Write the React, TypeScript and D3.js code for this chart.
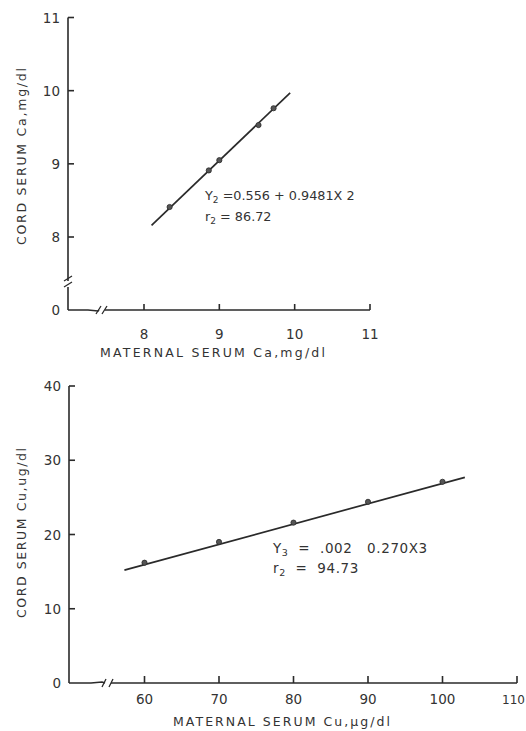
import React from "react";
import * as d3 from "d3";

// Top chart: Calcium
const caMaternal = [8.34, 8.86, 9.0, 9.52, 9.72];
const caCord = [8.41, 8.91, 9.05, 9.53, 9.76];
const caLineX = [8.1, 9.94];
const caLineY = [8.16, 9.97];
const caXTicks = [8, 9, 10, 11];
const caYTicks = [8, 9, 10, 11];

// Bottom chart: Copper
const cuMaternal = [60, 70, 80, 90, 100];
const cuCord = [16.2, 19.0, 21.6, 24.4, 27.1];
const cuLineX = [57.3, 103];
const cuLineY = [15.2, 27.7];
const cuXTicks = [60, 70, 80, 90, 100, 110];
const cuYTicks = [10, 20, 30, 40];

const INK = "#2a2a2a";
const TXT = "#333";
const FONT = "DejaVu Sans, Liberation Sans, sans-serif";

export default function App() {
  const xCa = d3.scaleLinear().domain([8, 11]).range([144, 370]);
  const yCa = d3.scaleLinear().domain([8, 11]).range([237, 17.5]);
  const ca0x = 68;
  const ca0y = 310;

  const xCu = d3.scaleLinear().domain([60, 110]).range([144.5, 517]);
  const yCu = d3.scaleLinear().domain([0, 40]).range([683, 386]);
  const cu0x = 69;

  const line = d3
    .line<[number, number]>()
    .x((d) => d[0])
    .y((d) => d[1]);

  const caPts: [number, number][] = caLineX.map((v, i) => [xCa(v), yCa(caLineY[i])]);
  const cuPts: [number, number][] = cuLineX.map((v, i) => [xCu(v), yCu(cuLineY[i])]);

  return (
    <svg
      width={526}
      height={731}
      style={{ position: "absolute", left: 0, top: 0, background: "#fff" }}
      fontFamily={FONT}
    >
      <rect x={0} y={0} width={526} height={731} fill="#fff" />

      {/* ===== TOP CHART ===== */}
      <g stroke={INK} strokeWidth={1.6} fill="none">
        <path d={`M${ca0x},${yCa(11)} L${ca0x},281`} />
        <path d={`M${ca0x},287 L${ca0x},${ca0y}`} />
        <path d={`M${ca0x - 4},281 L${ca0x + 4},276 M${ca0x - 4},287 L${ca0x + 4},282`} strokeWidth={1.3} />
        <path d={`M${ca0x},${ca0y} L${ca0x + 20},${ca0y} L${ca0x + 30},${ca0y + 1} L99,${ca0y}`} />
        <path d={`M105,${ca0y} L${xCa(11)},${ca0y}`} />
        <path d={`M96,${ca0y + 4} L101,${ca0y - 4} M102,${ca0y + 4} L107,${ca0y - 4}`} strokeWidth={1.3} />
        {caYTicks.map((t) => (
          <line key={"cy" + t} x1={ca0x} x2={ca0x + 6} y1={yCa(t)} y2={yCa(t)} />
        ))}
        {caXTicks.map((t) => (
          <line key={"cx" + t} x1={xCa(t)} x2={xCa(t)} y1={ca0y} y2={ca0y - 6} />
        ))}
        <path d={line(caPts) || ""} strokeWidth={1.7} />
      </g>
      {caMaternal.map((v, i) => (
        <circle key={"cp" + i} cx={xCa(v)} cy={yCa(caCord[i])} r={2.6} fill="#555" stroke={INK} strokeWidth={0.8} />
      ))}
      <g fill={TXT} fontSize={13.5}>
        {caYTicks.map((t) => (
          <text key={"cyl" + t} x={ca0x - 8} y={yCa(t) + 5} textAnchor="end">
            {t}
          </text>
        ))}
        <text x={ca0x - 8} y={ca0y + 5} textAnchor="end">0</text>
        {caXTicks.map((t) => (
          <text key={"cxl" + t} x={xCa(t)} y={339} textAnchor="middle">
            {t}
          </text>
        ))}
        <text x={100} y={357} textLength={225} lengthAdjust="spacing" fontSize={12.5}>
          MATERNAL SERUM Ca,mg/dl
        </text>
        <text
          transform="translate(26,245) rotate(-90)"
          textLength={177}
          lengthAdjust="spacing"
          fontSize={12.5}
        >
          CORD SERUM Ca,mg/dl
        </text>
        <text x={205} y={200} fontSize={12.8}>
          Y<tspan fontSize={9} dy={3}>2</tspan>
          <tspan dy={-3}> =0.556 + 0.9481X 2</tspan>
        </text>
        <text x={205} y={221} fontSize={12.8}>
          r<tspan fontSize={9} dy={3}>2</tspan>
          <tspan dy={-3}> = 86.72</tspan>
        </text>
      </g>

      {/* ===== BOTTOM CHART ===== */}
      <g stroke={INK} strokeWidth={1.6} fill="none">
        <path d={`M${cu0x},${yCu(40)} L${cu0x},${yCu(0)}`} />
        <path d={`M${cu0x},${yCu(0)} L${cu0x + 22},${yCu(0)} L${cu0x + 33},${yCu(0) - 1} L105,${yCu(0)}`} />
        <path d={`M111,${yCu(0)} L${xCu(110)},${yCu(0)}`} />
        <path d={`M102,${yCu(0) + 4} L106,${yCu(0) - 4} M109,${yCu(0) + 4} L113,${yCu(0) - 4}`} strokeWidth={1.3} />
        {cuYTicks.map((t) => (
          <line key={"uy" + t} x1={cu0x} x2={cu0x + 6} y1={yCu(t)} y2={yCu(t)} />
        ))}
        {cuXTicks.map((t) => (
          <line key={"ux" + t} x1={xCu(t)} x2={xCu(t)} y1={yCu(0)} y2={yCu(0) - 7} />
        ))}
        <path d={line(cuPts) || ""} strokeWidth={1.7} />
      </g>
      {cuMaternal.map((v, i) => (
        <circle key={"up" + i} cx={xCu(v)} cy={yCu(cuCord[i])} r={2.6} fill="#555" stroke={INK} strokeWidth={0.8} />
      ))}
      <g fill={TXT} fontSize={13.5}>
        {cuYTicks.map((t) => (
          <text key={"uyl" + t} x={cu0x - 8} y={yCu(t) + 5} textAnchor="end">
            {t}
          </text>
        ))}
        <text x={cu0x - 8} y={yCu(0) + 5} textAnchor="end">0</text>
        {cuXTicks.map((t) => (
          <text
            key={"uxl" + t}
            x={t === 110 ? 525 : xCu(t)}
            y={703.5}
            textAnchor={t === 110 ? "end" : "middle"}
            fontSize={t === 110 ? 12 : 13.5}
          >
            {t}
          </text>
        ))}
        <text x={173} y={726} textLength={217} lengthAdjust="spacing" fontSize={12.5}>
          MATERNAL SERUM Cu,µg/dl
        </text>
        <text
          transform="translate(26,618) rotate(-90)"
          textLength={170}
          lengthAdjust="spacing"
          fontSize={12.5}
        >
          CORD SERUM Cu,ug/dl
        </text>
        <text x={273} y={553} fontSize={13.5} letterSpacing={0.6} style={{ whiteSpace: "pre" }}>
          Y<tspan fontSize={9.5} dy={3}>3</tspan>
          <tspan dy={-3}>{"  =  .002   0.270X3"}</tspan>
        </text>
        <text x={273} y={573} fontSize={13.5} letterSpacing={0.6} style={{ whiteSpace: "pre" }}>
          r<tspan fontSize={9.5} dy={3}>2</tspan>
          <tspan dy={-3}>{"  =  94.73"}</tspan>
        </text>
      </g>
    </svg>
  );
}
